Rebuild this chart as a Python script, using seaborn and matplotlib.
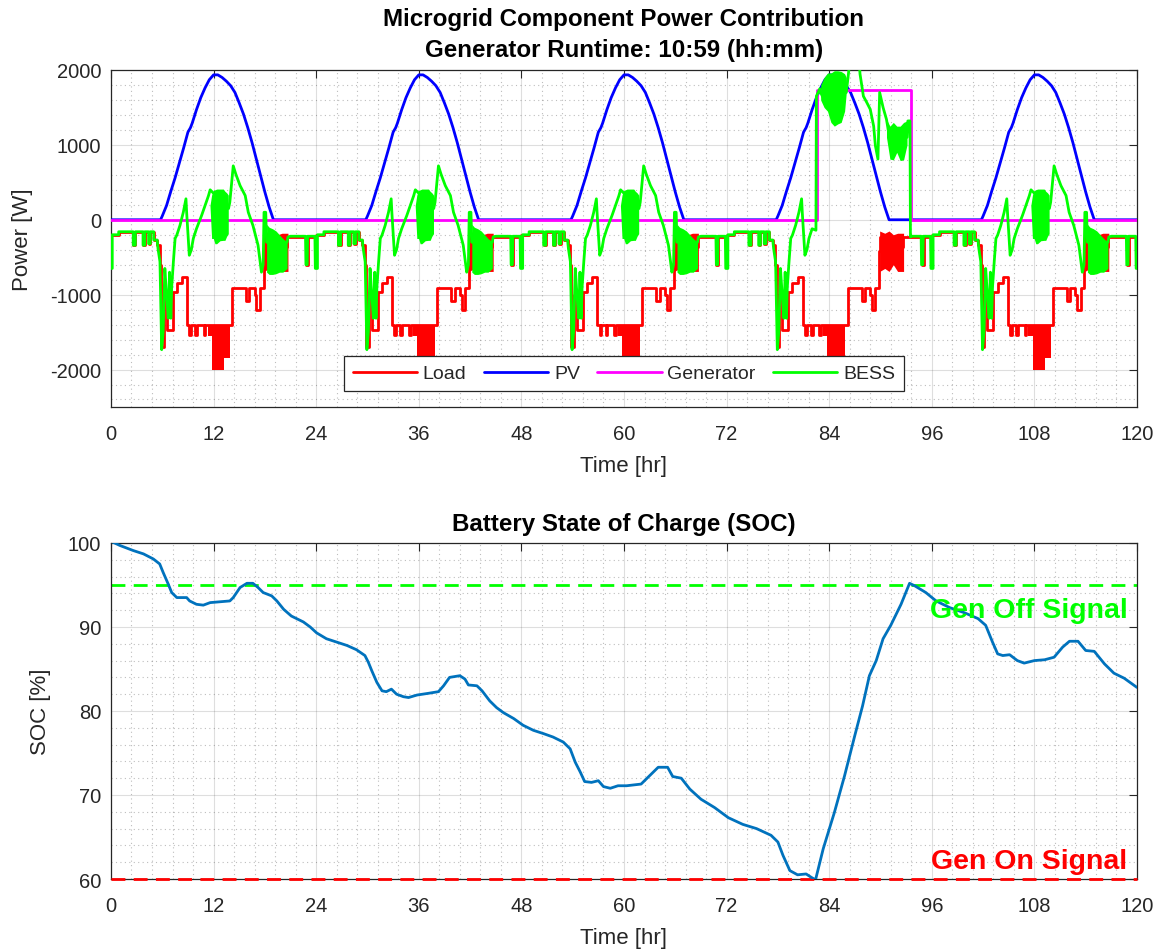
import numpy as np
import pandas as pd
import matplotlib
matplotlib.use("Agg")
import matplotlib.pyplot as plt
import seaborn as sns
from matplotlib.ticker import MultipleLocator
from matplotlib.lines import Line2D

# ------------------------------------------------------------------ data
day_starts = [0, 24, 48, 72, 96]

# PV output over one day (hour of day, W) - identical every day
pv_day_hr = [0, 5.8, 6.0, 6.5, 7.0, 7.5, 8.0, 8.5, 9.0, 9.3, 9.5, 10.0, 10.5, 11.0,
             11.5, 12.0, 12.5, 13.0, 13.5, 14.0, 14.5, 15.0, 15.5, 16.0, 16.5, 17.0,
             17.5, 18.0, 18.5, 19.0, 24.0]
pv_day_w = [0, 0, 50, 190, 380, 560, 760, 960, 1170, 1230, 1290, 1470, 1630, 1760,
            1870, 1935, 1935, 1900, 1850, 1790, 1700, 1560, 1410, 1230, 1030, 810,
            590, 370, 170, 0, 0]

# Load over one day (step changes: hour of day, W)
load_day_hr = [0.0, 0.9, 2.6, 2.85, 3.75, 3.95, 4.4, 4.6, 5.0, 5.4, 5.7, 5.85, 6.15,
               6.5, 7.2, 7.7, 8.3, 8.9, 9.15, 9.35, 9.85, 10.05, 10.85, 11.05, 13.9,
               14.15, 15.8, 16.2, 16.8, 17.0, 17.4, 17.85, 17.9, 19.8, 20.6, 22.8,
               23.05, 24.0]
load_day_w = [-200, -160, -340, -160, -340, -160, -320, -160, -270, -340, -600, -1700,
              -1000, -1470, -960, -840, -760, -1400, -1540, -1400, -1540, -1400,
              -1540, -1400, -1400, -910, -1080, -910, -1000, -1200, -910, -420,
              -230, -360, -230, -600, -230, -230]
# Load fast switching around midday (hour of day, lower / upper envelope W)
load_mid_hr = [11.3, 11.8, 12.2, 13.2, 13.9]
load_mid_lo = [-1550, -2000, -2000, -1850, -1850]
load_mid_hi = [-1400, -1400, -1400, -1400, -1400]
# Load fast switching in the evening
load_eve_hr = [17.9, 18.5, 19.0, 19.5, 20.0, 20.7]
load_eve_lo = [-690, -650, -690, -600, -690, -690]
load_eve_hi = [-150, -180, -150, -200, -180, -180]

# BESS power over a normal day (hour of day, W)
bess_day_hr = [0.0, 0.15, 0.15, 0.9, 0.9, 2.6, 2.6, 2.85, 2.85, 3.75, 3.75, 3.95, 3.95,
               4.4, 4.4, 4.6, 4.6, 5.0, 5.0, 5.4, 5.5, 5.73, 5.93, 6.1, 6.3, 6.5, 6.7,
               6.85, 7.0, 7.1, 7.3, 7.5, 7.7, 8.07, 8.46, 8.77, 8.85, 9.16, 9.4, 9.63,
               10.0, 10.6, 11.0, 11.4, 11.6, 13.75, 13.9, 14.3, 14.6, 15.1, 15.7,
               16.06, 16.6, 17.2, 17.6, 17.8, 17.9, 18.1, 18.2, 20.6, 20.7, 21.0,
               22.75, 22.8, 22.95, 23.0, 23.85, 23.9, 24.0]
bess_day_w = [-650, -650, -200, -200, -160, -160, -340, -340, -160, -160, -340, -340,
              -160, -160, -320, -320, -160, -160, -270, -270, -385, -560, -1735, -1500,
              -650, -1000, -1315, -700, -1315, -900, -560, -250, -205, -75, 100, 280,
              100, -474, -400, -250, -120, 57, 190, 320, 400, 150, 235, 720, 610, 456,
              323, 100, -75, -340, -700, -600, 100, 100, -300, -300, -230, -220, -220,
              -600, -600, -220, -220, -650, -650]
# BESS fast switching around midday (hour of day, lower / upper envelope W)
bess_mid_hr = [11.58, 11.77, 11.97, 12.16, 12.36, 12.75, 13.14, 13.33, 13.53, 13.72]
bess_mid_lo = [190, -250, -250, -320, -320, -280, -275, -275, -220, -186]
bess_mid_hi = [190, 330, 390, 400, 410, 410, 410, 380, 360, 330]
# BESS fast switching in the evening
bess_eve_hr = [18.2, 18.5, 18.9, 19.3, 19.7, 20.1, 20.6]
bess_eve_lo = [-700, -730, -730, -720, -700, -700, -650]
bess_eve_hi = [-60, -100, -120, -150, -200, -250, -300]

# BESS while the generator runs on day 4 (absolute hr, W)
bess_gen_hr = [82.45, 82.5, 82.9, 83.0, 83.4, 86.0, 86.3, 86.5, 87.5, 87.6, 88.0, 88.4,
               88.8, 89.2, 89.4, 89.7, 89.9, 90.3, 90.7, 90.9, 93.1, 93.2, 93.45, 93.5]
bess_gen_w = [-140, 1650, 1750, 1700, 1600, 1700, 2000, 2150, 2150, 1950, 1650, 1565,
              1475, 1250, 990, 810, 1700, 1500, 1340, 1200, 1100, 1320, 1320, -230]
bess_gen1_hr = [83.0, 83.4, 83.8, 84.2, 84.6, 85.0, 85.4, 85.8, 86.0]
bess_gen1_lo = [1600, 1500, 1450, 1300, 1250, 1280, 1300, 1450, 1700]
bess_gen1_hi = [1800, 1900, 1960, 1960, 1990, 1990, 1980, 1950, 1900]
bess_gen2_hr = [90.7, 91.1, 91.5, 91.9, 92.3, 92.7, 93.1]
bess_gen2_lo = [1100, 810, 800, 900, 790, 800, 1000]
bess_gen2_hi = [1340, 1250, 1300, 1250, 1250, 1300, 1320]

# Generator (step changes: hr, W)
gen_hr = [0, 82.55, 93.53, 120]
gen_w = [0, 1730, 0, 0]

# Battery state of charge (hr, %)
soc_hr = [0, 1.05, 2.6, 3.8, 4.95, 5.7, 6.1, 6.7, 7.1, 7.7, 8.85, 9.2, 10.0, 10.8,
          11.6, 12.7, 13.9, 14.3, 15.1, 15.9, 16.6, 17.2, 17.8, 18.8, 19.4, 20.2,
          21.1, 22.5, 23.3, 24.05, 25.2, 26.4, 27.6, 28.7, 29.7, 30.1, 30.5, 31.1,
          31.7, 32.2, 32.8, 33.4, 34.2, 34.8, 35.8, 37.1, 38.3, 38.9, 39.6, 40.8,
          41.4, 41.8, 42.8, 43.4, 44.3, 45.1, 45.9, 47.1, 48.2, 49.4, 50.6, 51.7,
          52.9, 53.7, 54.3, 54.9, 55.4, 56.2, 57.0, 57.6, 58.4, 59.3, 60.3, 62.0,
          63.0, 64.0, 65.1, 65.7, 66.7, 67.7, 69.0, 70.6, 72.2, 73.9, 75.5, 77.2,
          78.0, 78.6, 79.4, 80.3, 81.3, 81.9, 82.4, 83.3, 84.6, 85.8, 87.0, 87.9,
          88.7, 89.5, 90.3, 91.2, 92.4, 93.4, 94.0, 95.3, 96.5, 98.1, 99.8, 101.4,
          102.3, 103.1, 103.7, 104.3, 105.1, 106.0, 106.8, 108.0, 109.2, 110.3,
          111.3, 112.1, 113.1, 114.0, 115.0, 116.2, 117.3, 118.5, 120.0]
soc_pct = [100.2, 99.7, 99.1, 98.7, 98.1, 97.5, 96.5, 95.1, 94.1, 93.5, 93.5, 93.1,
           92.7, 92.6, 92.9, 93.0, 93.1, 93.5, 94.7, 95.2, 95.2, 94.7, 94.1, 93.7,
           93.1, 92.1, 91.3, 90.6, 90.0, 89.3, 88.6, 88.2, 87.8, 87.3, 86.6, 85.8,
           84.8, 83.4, 82.4, 82.3, 82.6, 82.0, 81.7, 81.6, 81.9, 82.1, 82.3, 83.0,
           84.0, 84.2, 83.8, 83.1, 83.0, 82.4, 81.2, 80.4, 79.8, 79.1, 78.3, 77.7,
           77.3, 76.9, 76.3, 75.5, 73.9, 72.7, 71.6, 71.5, 71.7, 71.0, 70.8, 71.1,
           71.1, 71.3, 72.3, 73.3, 73.3, 72.2, 72.0, 70.7, 69.5, 68.5, 67.3, 66.5,
           66.0, 65.2, 64.4, 62.8, 61.0, 60.5, 60.6, 60.2, 59.9, 63.6, 67.9, 72.3,
           77.1, 80.6, 84.2, 86.0, 88.6, 90.2, 92.7, 95.2, 94.9, 94.1, 93.1, 92.3,
           91.7, 91.0, 90.2, 88.2, 86.8, 86.6, 86.7, 86.0, 85.7, 86.0, 86.1, 86.4,
           87.6, 88.3, 88.3, 87.2, 87.1, 85.6, 84.5, 83.9, 82.8]

gen_off_level = 95
gen_on_level = 60

# ------------------------------------------------------------------ assemble series
def tile_days(hr, w):
    t, v = [], []
    for d in day_starts:
        t += [d + h for h in hr]
        v += list(w)
    return t, v

pv_t, pv_v = tile_days(pv_day_hr, pv_day_w)
load_t, load_v = tile_days(load_day_hr, load_day_w)

bess_t, bess_v = [], []
for d in day_starts:
    for h, w in zip(bess_day_hr, bess_day_w):
        if d == 72 and 10.45 <= h <= 21.5:
            continue
        bess_t.append(d + h)
        bess_v.append(w)
    if d == 72:
        idx = next(i for i, tt in enumerate(bess_t) if tt > 72 + 21.5)
        bess_t[idx:idx] = bess_gen_hr + [72 + 21.5]
        bess_v[idx:idx] = bess_gen_w + [-220]

df_load = pd.DataFrame({"t": load_t, "w": load_v})
df_pv = pd.DataFrame({"t": pv_t, "w": pv_v})
df_gen = pd.DataFrame({"t": gen_hr, "w": gen_w})
df_bess = pd.DataFrame({"t": bess_t, "w": bess_v})
df_soc = pd.DataFrame({"t": soc_hr, "soc": soc_pct})

# ------------------------------------------------------------------ style
sns.set_style("white")
plt.rcParams["font.family"] = ["Liberation Sans", "DejaVu Sans"]
plt.rcParams["axes.unicode_minus"] = False

C_LOAD, C_PV, C_GEN, C_BESS = "#FF0000", "#0000FF", "#FF00FF", "#00FF00"
C_SOC = "#0072BD"
AXC = "#262626"
LW = 2.0

fig = plt.figure(figsize=(11.62, 9.53), dpi=100)
ax1 = fig.add_axes([0.0955, 0.5719, 0.8830, 0.3536])
ax2 = fig.add_axes([0.0955, 0.0766, 0.8830, 0.3526])


def band(ax, t, lo, hi, color, z, step=None):
    ax.fill_between(t, lo, hi, color=color, lw=0, zorder=z, step=step)


# ------------------------------------------------------------------ top panel
common = dict(estimator=None, sort=False, ax=ax1, legend=False)
sns.lineplot(data=df_load, x="t", y="w", color=C_LOAD, lw=LW, drawstyle="steps-post",
             zorder=2, **common)
for d in day_starts:
    band(ax1, [d + h for h in load_mid_hr], load_mid_lo, load_mid_hi, C_LOAD, 2, "post")
    band(ax1, [d + h for h in load_eve_hr], load_eve_lo, load_eve_hi, C_LOAD, 2)
sns.lineplot(data=df_pv, x="t", y="w", color=C_PV, lw=LW, zorder=3, **common)
sns.lineplot(data=df_gen, x="t", y="w", color=C_GEN, lw=LW, drawstyle="steps-post",
             zorder=4, **common)
sns.lineplot(data=df_bess, x="t", y="w", color=C_BESS, lw=LW, zorder=5, **common)
for d in day_starts:
    if d == 72:
        continue
    band(ax1, [d + h for h in bess_mid_hr], bess_mid_lo, bess_mid_hi, C_BESS, 5)
    band(ax1, [d + h for h in bess_eve_hr], bess_eve_lo, bess_eve_hi, C_BESS, 5)
band(ax1, bess_gen1_hr, bess_gen1_lo, bess_gen1_hi, C_BESS, 5)
band(ax1, bess_gen2_hr, bess_gen2_lo, bess_gen2_hi, C_BESS, 5)

ax1.set_ylim(-2500, 2000)
ax1.yaxis.set_major_locator(MultipleLocator(1000))
ax1.yaxis.set_minor_locator(MultipleLocator(200))
ax1.set_ylabel("Power [W]", fontsize=16, labelpad=12)
ax1.set_xlabel("Time [hr]", fontsize=16, labelpad=9)
ax1.set_title("Microgrid Component Power Contribution\nGenerator Runtime: 10:59 (hh:mm)",
              fontsize=17.4, fontweight="bold", linespacing=1.45, pad=10, color="black")

handles = [Line2D([], [], color=c, lw=LW) for c in (C_LOAD, C_PV, C_GEN, C_BESS)]
leg = ax1.legend(handles, ["Load", "PV", "Generator", "BESS"], ncol=4,
                 loc="lower center", bbox_to_anchor=(0.5, 0.047), fontsize=14,
                 frameon=True, fancybox=False, framealpha=1, edgecolor=AXC,
                 handlelength=3.3, handletextpad=0.3, columnspacing=0.9,
                 borderpad=0.45, borderaxespad=0)
leg.get_frame().set_linewidth(0.9)
leg.set_zorder(10)

# ------------------------------------------------------------------ bottom panel
ax2.axhline(gen_off_level, color=C_BESS, lw=LW, ls=(0, (5, 3)), zorder=2)
ax2.axhline(gen_on_level, color=C_LOAD, lw=LW, ls=(0, (5, 3)), zorder=3,
            clip_on=False)
sns.lineplot(data=df_soc, x="t", y="soc", color=C_SOC, lw=LW, estimator=None,
             sort=False, ax=ax2, legend=False, zorder=4)
ax2.text(118.9, 92.0, "Gen Off Signal", color=C_BESS, fontsize=20.5, fontweight="bold",
         ha="right", va="center", zorder=4)
ax2.text(118.9, 62.1, "Gen On Signal", color=C_LOAD, fontsize=20.5, fontweight="bold",
         ha="right", va="center", zorder=4)
ax2.set_ylim(60, 100)
ax2.yaxis.set_major_locator(MultipleLocator(10))
ax2.yaxis.set_minor_locator(MultipleLocator(2))
ax2.set_ylabel("SOC [%]", fontsize=16, labelpad=12)
ax2.set_xlabel("Time [hr]", fontsize=16, labelpad=9)
ax2.set_title("Battery State of Charge (SOC)", fontsize=17.4, fontweight="bold", pad=9,
              color="black")

for ax in (ax1, ax2):
    ax.set_xlim(0, 120)
    ax.xaxis.set_major_locator(MultipleLocator(12))
    ax.xaxis.set_minor_locator(MultipleLocator(2.4))
    ax.grid(which="major", color=AXC, alpha=0.15, lw=0.8)
    ax.grid(which="minor", color=AXC, alpha=0.3, lw=0.8, ls=(0, (1, 3)))
    ax.set_axisbelow(True)
    ax.tick_params(which="both", direction="in", top=True, right=True)
    ax.tick_params(which="major", length=6, width=0.8, color=AXC, labelcolor=AXC,
                   labelsize=14.5)
    ax.tick_params(axis="x", which="major", pad=12)
    ax.tick_params(axis="y", which="major", pad=7)
    ax.tick_params(which="minor", length=0)
    for s in ax.spines.values():
        s.set_color(AXC)
        s.set_linewidth(0.9)
    ax.xaxis.label.set_color(AXC)
    ax.yaxis.label.set_color(AXC)

fig.savefig("out.png", dpi=100)
